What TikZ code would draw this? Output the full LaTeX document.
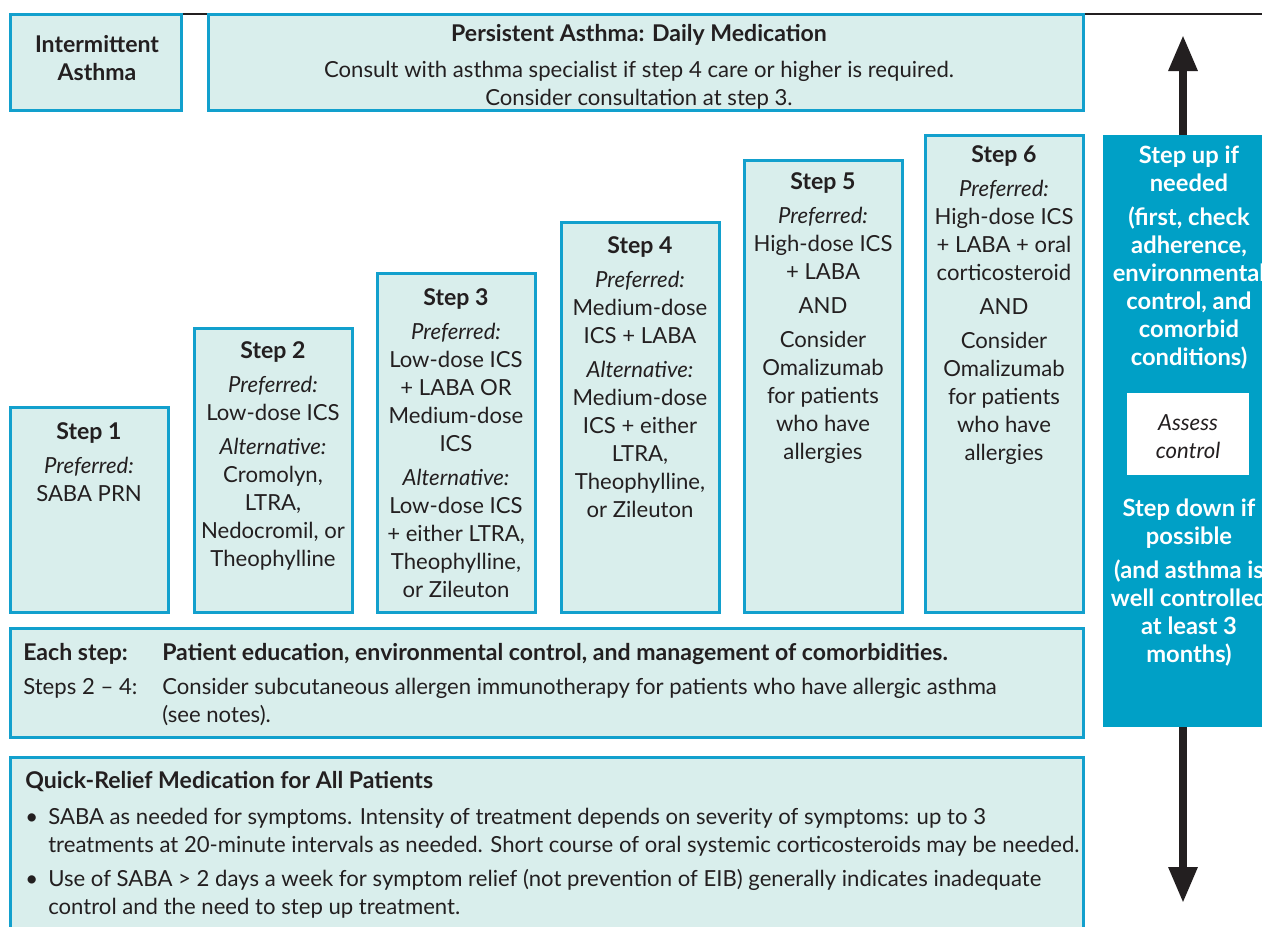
\documentclass[tikz,border=0pt]{standalone}
\usepackage{fontspec}
\setmainfont{Lato}
\usetikzlibrary{arrows.meta,fit}
\definecolor{boxfill}{HTML}{D9EEEC}
\definecolor{boxline}{HTML}{12A0CD}
\definecolor{barblue}{HTML}{00A0C6}
\definecolor{ink}{HTML}{231F20}
% heavier, slightly larger bold used for headings
\newcommand{\hvy}[1]{{\fontsize{17.3pt}{21pt}\selectfont\bfseries #1}}
\begin{document}
\begin{tikzpicture}[x=0.75pt,y=-0.75pt,
  panel/.style={draw=boxline, fill=boxfill, line width=2.25pt, inner sep=0pt},
  body/.style={font=\fontsize{16.6pt}{21pt}\selectfont, text=ink, inner sep=0pt},
  ctext/.style={body, anchor=north, align=center},
  ltext/.style={body, anchor=north west, align=left},
  bartext/.style={body, text=white, font=\fontsize{17.8pt}{21pt}\selectfont\bfseries, anchor=north, align=center},
  uparrow/.style={ink, line width=6pt, -{Triangle[length=27pt,width=20.5pt]}}
]
\clip (0,0) rectangle (1262,926);
\fill[white] (0,0) rectangle (1262,926);

% rule along the top
\draw[ink, line width=1.9pt] (10,14) -- (1262,14);

% header panels
\node[panel, fit={(10,14) (181,110)}] (inter) {};
\node[panel, fit={(208,14) (1083,110)}] (persist) {};
\node[ctext] (intertxt) at (97,33) {\strut\hvy{Intermittent}\\\hvy{Asthma}};
\node[ctext] (persisttxt) at (639,22) {\strut\hvy{Persistent Asthma: Daily Medication}\\[6pt]
  Consult with asthma specialist if step 4 care or higher is required.\\
  Consider consultation at step 3.};

% step panels
\node[panel, fit={(10,407) (168,612)}] (step1) {};
\node[panel, fit={(194,328) (352,612)}] (step2) {};
\node[panel, fit={(377,273) (535,612)}] (step3) {};
\node[panel, fit={(561,222) (719,612)}] (step4) {};
\node[panel, fit={(744,160) (902,612)}] (step5) {};
\node[panel, fit={(925,135) (1083,612)}] (step6) {};

\node[ctext] (step1txt) at (89,420) {\strut\hvy{Step 1}\\[4.5pt]\textit{Preferred:}\\SABA PRN};
\node[ctext] (step2txt) at (273,339) {\strut\hvy{Step 2}\\[4.5pt]\textit{Preferred:}\\Low-dose ICS\\[4.5pt]
  \textit{Alternative:}\\Cromolyn,\\LTRA,\\Nedocromil, or\\Theophylline};
\node[ctext] (step3txt) at (456,286) {\strut\hvy{Step 3}\\[4.5pt]\textit{Preferred:}\\Low-dose ICS\\+ LABA OR\\Medium-dose\\ICS\\[4.5pt]
  \textit{Alternative:}\\Low-dose ICS\\+ either LTRA,\\Theophylline,\\or Zileuton};
\node[ctext] (step4txt) at (640,234) {\strut\hvy{Step 4}\\[4.5pt]\textit{Preferred:}\\Medium-dose\\ICS + LABA\\[4.5pt]
  \textit{Alternative:}\\Medium-dose\\ICS + either\\LTRA,\\Theophylline,\\or Zileuton};
\node[ctext] (step5txt) at (823,170) {\strut\hvy{Step 5}\\[4.5pt]\textit{Preferred:}\\High-dose ICS\\+ LABA\\[4.5pt]
  AND\\[4.5pt]Consider\\Omalizumab\\for patients\\who have\\allergies};
\node[ctext] (step6txt) at (1004,143) {\strut\hvy{Step 6}\\[4.5pt]\textit{Preferred:}\\High-dose ICS\\+ LABA + oral\\corticosteroid\\[4.5pt]
  AND\\[4.5pt]Consider\\Omalizumab\\for patients\\who have\\allergies};

% notes common to every step
\node[panel, fit={(10,628) (1083,737)}] (each) {};
\node[ltext] (eachlbl) at (23,641) {\strut\hvy{Each step:}\\[4.5pt]Steps 2 -- 4:};
\node[ltext] (eachtxt) at (162,641) {\strut\hvy{Patient education, environmental control, and management of comorbidities.}\\[4.5pt]
  Consider subcutaneous allergen immunotherapy for patients who have allergic asthma\\(see notes).};

% quick-relief panel
\node[panel, fit={(10,757) (1083,945)}] (quick) {};
\node[ltext] (quicktitle) at (25,769) {\strut\hvy{Quick-Relief Medication for All Patients}};
\node[ltext] (bulleta) at (25,805) {\strut•};
\node[ltext] (quicka) at (48,805) {\strut SABA as needed for symptoms. Intensity of treatment depends on severity of symptoms: up to 3\\
  treatments at 20-minute intervals as needed. Short course of oral systemic corticosteroids may be needed.};
\node[ltext] (bulletb) at (25,867) {\strut•};
\node[ltext] (quickb) at (48,867) {\strut Use of SABA > 2 days a week for symptom relief (not prevention of EIB) generally indicates inadequate\\
  control and the need to step up treatment.};

% step up / step down bar
\node[fill=barblue, inner sep=0pt, fit={(1103,135) (1280,727)}] (bar) {};
\node[bartext] (uptxt) at (1189,144) {\strut Step up if\\needed\\[4.5pt](first, check\\adherence,\\environmental\\control, and\\comorbid\\conditions)};
\node[fill=white, inner sep=0pt, fit={(1127,393) (1249,475)}] (assess) {};
\node[ctext] (assesstxt) at (1188,411) {\strut\textit{Assess}\\\textit{control}};
\node[bartext] (downtxt) at (1189,497) {\strut Step down if\\possible\\[4.5pt](and asthma is\\well controlled\\at least 3\\months)};

\coordinate (uptip) at (1183,35);
\coordinate (downtip) at (1183,903);
\draw[uparrow] (uptip |- bar.north) -- (uptip);
\draw[uparrow] (downtip |- bar.south) -- (downtip);
\end{tikzpicture}
\end{document}
